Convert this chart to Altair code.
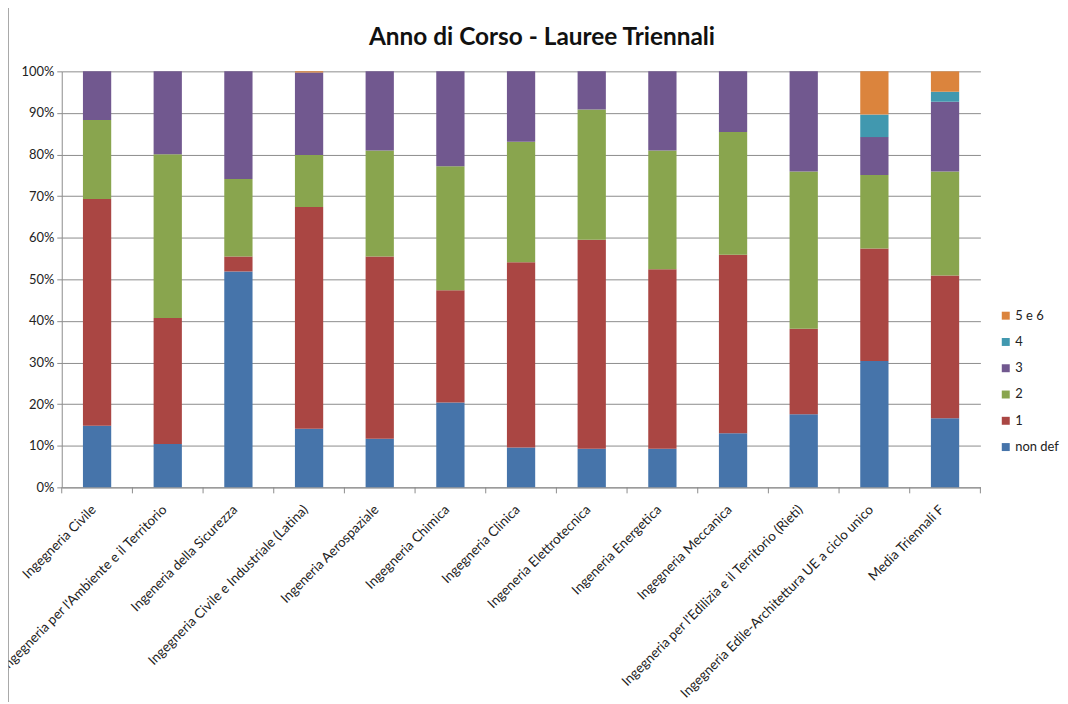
import altair as alt
import pandas as pd

categories = [
    "Ingegneria Civile",
    "Ingegneria per l'Ambiente e il Territorio",
    "Ingeneria della Sicurezza",
    "Ingegneria Civile e Industriale  (Latina)",
    "Ingeneria Aerospaziale",
    "Ingegneria Chimica",
    "Ingegneria Clinica",
    "Ingeneria Elettrotecnica",
    "Ingeneria Energetica",
    "Ingegneria Meccanica",
    "Ingegneria per l'Edilizia e il Territorio (Rieti)",
    "Ingegneria Edile-Architettura UE a ciclo unico",
    "Media Triennali F",
]

series = ["non def", "1", "2", "3", "4", "5 e 6"]
colors = ["#4674AA", "#AA4643", "#89A54E", "#71588F", "#4198AF", "#DB843D"]

non_def = [14.8, 10.4, 51.9, 14.1, 11.7, 20.4, 9.6, 9.3, 9.3, 13.0, 17.6, 30.4, 16.6]
anno_1 = [54.5, 30.3, 3.6, 53.3, 43.8, 27.0, 44.5, 50.2, 43.1, 42.9, 20.5, 27.0, 34.3]
anno_2 = [19.0, 39.4, 18.6, 12.5, 25.5, 29.8, 29.0, 31.3, 28.6, 29.5, 37.8, 17.7, 25.0]
anno_3 = [11.7, 19.9, 25.9, 19.8, 19.0, 22.8, 16.9, 9.2, 19.0, 14.6, 24.1, 9.1, 16.8]
anno_4 = [0, 0, 0, 0, 0, 0, 0, 0, 0, 0, 0, 5.4, 2.4]
anno_5e6 = [0, 0, 0, 0.3, 0, 0, 0, 0, 0, 0, 0, 10.4, 4.9]

values = [non_def, anno_1, anno_2, anno_3, anno_4, anno_5e6]

rows = []
for si, (s, vals) in enumerate(zip(series, values)):
    for c, v in zip(categories, vals):
        rows.append({"corso": c, "anno": s, "idx": si, "val": v})
df = pd.DataFrame(rows)
cat_df = pd.DataFrame({"corso": categories})
last_df = pd.DataFrame({"corso": categories[-1:]})

FONT = "Lato"
GRAY = "#8c8c8c"

x_enc = alt.X(
    "corso:N",
    sort=categories,
    title=None,
    scale=alt.Scale(paddingInner=0.6, paddingOuter=0.3),
    axis=alt.Axis(
        labelAngle=-45,
        labelFontSize=13.5,
        labelColor="#222222",
        labelFont=FONT,
        ticks=False,
        domainColor=GRAY,
        labelLimit=400,
        labelPadding=15,
        labelOffset=-8,
    ),
)

bars = alt.Chart(df).mark_bar().encode(
    x=x_enc,
    y=alt.Y(
        "val:Q",
        stack="normalize",
        title=None,
        scale=alt.Scale(domain=[0, 1]),
        axis=alt.Axis(
            format=".0%",
            values=[i / 10 for i in range(11)],
            gridColor=GRAY,
            domainColor=GRAY,
            tickColor=GRAY,
            tickSize=5,
            labelFontSize=13,
            labelColor="#222222",
            labelFont=FONT,
            labelPadding=3,
        ),
    ),
    color=alt.Color(
        "anno:N",
        scale=alt.Scale(domain=series[::-1], range=colors[::-1]),
        legend=alt.Legend(
            title=None,
            orient="none",
            legendX=942,
            legendY=239,
            symbolType="square",
            symbolSize=64,
            symbolStrokeWidth=0,
            labelFontSize=13,
            labelFont=FONT,
            labelColor="#222222",
            rowPadding=12.4,
            labelOffset=3,
        ),
    ),
    order=alt.Order("idx:Q", sort="ascending"),
)

ticks_left = alt.Chart(cat_df).mark_rule(color=GRAY, xOffset=-35.5).encode(
    x=alt.X("corso:N", sort=categories),
    y=alt.value(418),
    y2=alt.value(424),
)
ticks_right = alt.Chart(last_df).mark_rule(color=GRAY, xOffset=35.5).encode(
    x=alt.X("corso:N", sort=categories),
    y=alt.value(418),
    y2=alt.value(424),
)

border = alt.Chart(pd.DataFrame({"a": [0]})).mark_rule(color=GRAY, strokeWidth=1.5).encode(
    x=alt.value(-54), y=alt.value(-70), y2=alt.value(650)
)

chart = alt.layer(bars, ticks_left, ticks_right, border).properties(
    width=923,
    height=418,
    autosize="none",
    padding={"left": 54, "top": 62, "right": 80, "bottom": 214},
    title=alt.TitleParams(
        "Anno di Corso - Lauree Triennali",
        font=FONT,
        fontSize=24.5,
        fontWeight="bold",
        color="#111111",
        anchor="middle",
        frame="group",
        dx=21,
        dy=72,
        offset=22,
    ),
).configure_view(stroke=None)

chart.save("out.html", embed_options={"renderer": "svg", "actions": False})
